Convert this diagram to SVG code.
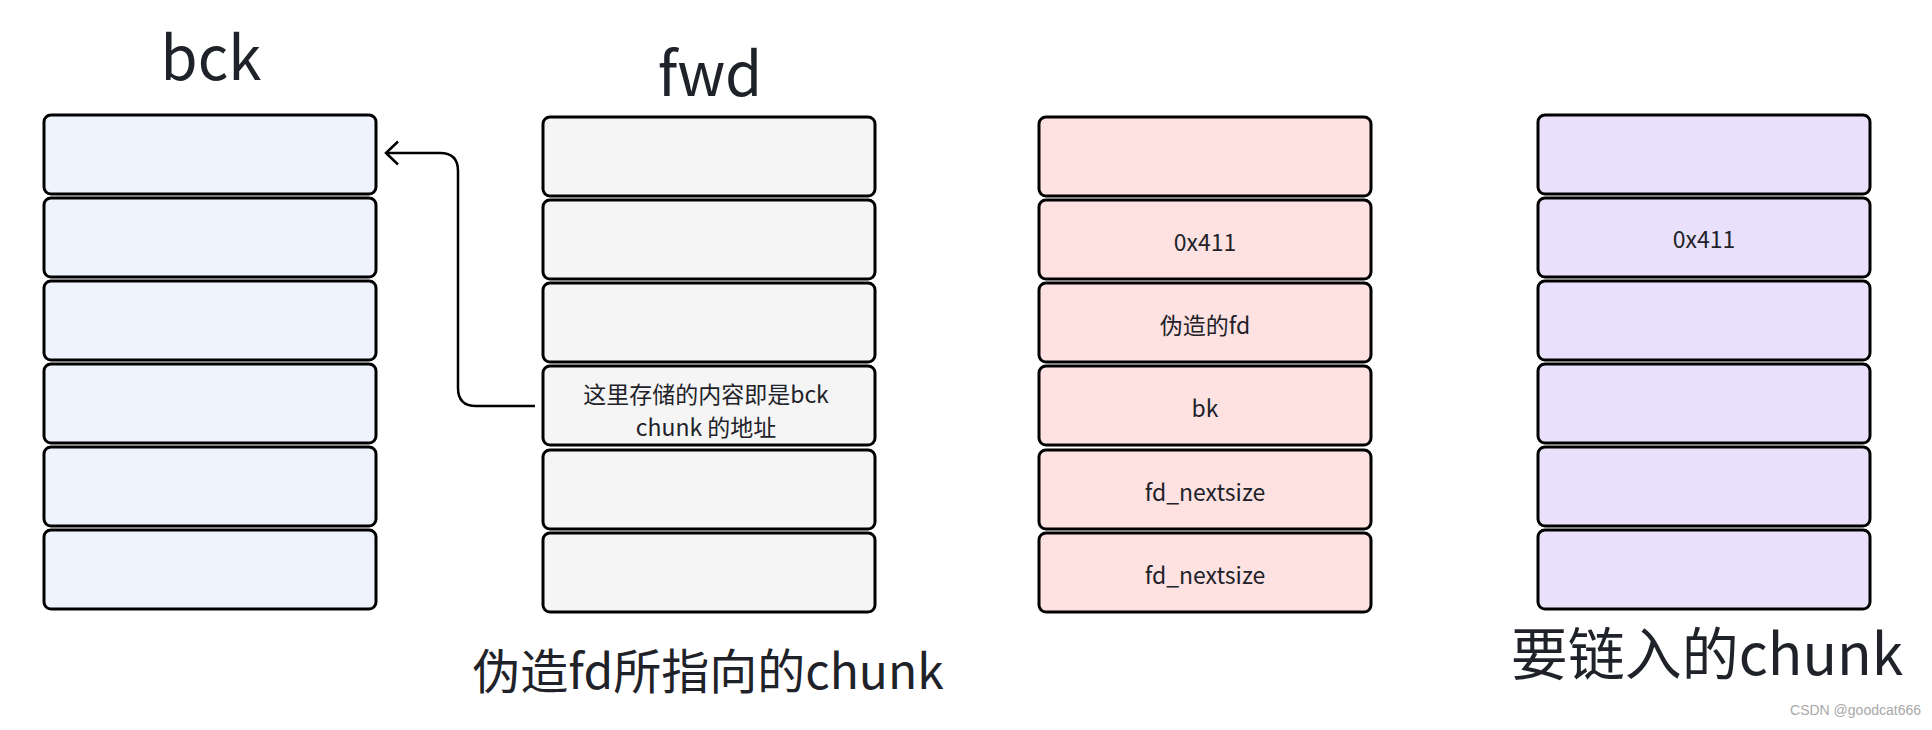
<svg xmlns="http://www.w3.org/2000/svg" width="1932" height="730" viewBox="0 0 1932 730">
<style>
.cell{stroke:#000;stroke-width:3}
.b{fill:#eef3fd}
.f{fill:#f5f5f5}
.p{fill:#fee2e2}
.v{fill:#e9e1fb}
text{font-family:"Noto Sans CJK SC","Noto Sans",sans-serif;fill:#1f2329}
.t{font-size:23px;text-anchor:middle;dominant-baseline:central}
.h{font-size:60px;text-anchor:middle}
.cap{text-anchor:middle}
.wm{font-family:"Liberation Sans",sans-serif;font-size:14px;fill:#a8a8a8;text-anchor:end}
.conn{fill:none;stroke:#000;stroke-width:2.5}
</style>
<defs>
<marker id="arr" viewBox="0 0 16 26" refX="14" refY="13" markerWidth="16" markerHeight="26" markerUnits="userSpaceOnUse" orient="auto">
<path d="M2 1.5 L14 13 L2 24.5" fill="none" stroke="#000" stroke-width="2.5"/>
</marker>
</defs>
<rect width="1932" height="730" fill="#fff"/>

<g id="bck">
<text class="h" x="211" y="80">bck</text>
<rect class="cell b" x="44" y="115" width="332" height="79" rx="7"/>
<rect class="cell b" x="44" y="198" width="332" height="79" rx="7"/>
<rect class="cell b" x="44" y="281" width="332" height="79" rx="7"/>
<rect class="cell b" x="44" y="364" width="332" height="79" rx="7"/>
<rect class="cell b" x="44" y="447" width="332" height="79" rx="7"/>
<rect class="cell b" x="44" y="530" width="332" height="79" rx="7"/>
</g>

<g id="fwd">
<text class="h" x="710" y="96">fwd</text>
<rect class="cell f" x="543" y="117" width="332" height="79" rx="7"/>
<rect class="cell f" x="543" y="200" width="332" height="79" rx="7"/>
<rect class="cell f" x="543" y="283" width="332" height="79" rx="7"/>
<rect class="cell f" x="543" y="366" width="332" height="79" rx="7"/>
<rect class="cell f" x="543" y="450" width="332" height="79" rx="7"/>
<rect class="cell f" x="543" y="533" width="332" height="79" rx="7"/>
<text class="t" x="706" y="393">这里存储的内容即是bck</text>
<text class="t" x="706" y="426">chunk 的地址</text>
<text class="cap" x="708" y="689" font-size="48">伪造fd所指向的chunk</text>
</g>

<g id="fake">
<rect class="cell p" x="1039" y="117" width="332" height="79" rx="7"/>
<rect class="cell p" x="1039" y="200" width="332" height="79" rx="7"/>
<rect class="cell p" x="1039" y="283" width="332" height="79" rx="7"/>
<rect class="cell p" x="1039" y="366" width="332" height="79" rx="7"/>
<rect class="cell p" x="1039" y="450" width="332" height="79" rx="7"/>
<rect class="cell p" x="1039" y="533" width="332" height="79" rx="7"/>
<text class="t" x="1205" y="241">0x411</text>
<text class="t" x="1205" y="324">伪造的fd</text>
<text class="t" x="1205" y="407">bk</text>
<text class="t" x="1205" y="491">fd_nextsize</text>
<text class="t" x="1205" y="574">fd_nextsize</text>
</g>

<g id="target">
<rect class="cell v" x="1538" y="115" width="332" height="79" rx="7"/>
<rect class="cell v" x="1538" y="198" width="332" height="79" rx="7"/>
<rect class="cell v" x="1538" y="281" width="332" height="79" rx="7"/>
<rect class="cell v" x="1538" y="364" width="332" height="79" rx="7"/>
<rect class="cell v" x="1538" y="447" width="332" height="79" rx="7"/>
<rect class="cell v" x="1538" y="530" width="332" height="79" rx="7"/>
<text class="t" x="1704" y="238">0x411</text>
<text class="cap" x="1707" y="675" font-size="57">要链入的chunk</text>
</g>

<g id="connectors">
<path class="conn" d="M535 406 H476 Q458 406 458 388 V171 Q458 153 440 153 H386" marker-end="url(#arr)"/>
</g>

<text class="wm" x="1921" y="715">CSDN @goodcat666</text>
</svg>
